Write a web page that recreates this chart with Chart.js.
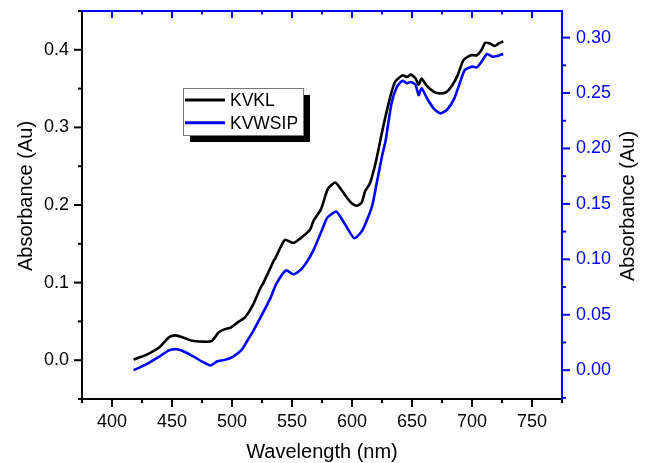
<!DOCTYPE html>
<html>
<head>
<meta charset="utf-8">
<script src="https://cdn.jsdelivr.net/npm/chart.js@4/dist/chart.umd.min.js"></script>
<style>
  html, body { margin: 0; padding: 0; background: #fff; }
  #wrap { width: 646px; height: 463px; }
</style>
</head>
<body>
<div id="wrap"><canvas id="chart" width="646" height="463"></canvas></div>
<script>
// KVKL (left axis)
const nmKVKL = [418, 428, 439, 447, 449, 453, 458, 467, 475, 483, 489, 494, 499, 505, 510, 514, 518, 520,
  524, 526, 535, 536, 544, 551, 557, 565, 568, 574, 580, 586, 591, 596, 600, 604, 608, 611, 615, 619, 622,
  626, 632, 636, 642, 646, 649, 653, 655.5, 658, 662, 668, 672, 678, 683, 688, 693, 699, 704, 708, 711, 715,
  719, 722, 726]
const absKVKL = [0.001, 0.0065, 0.016, 0.029, 0.031, 0.032, 0.030, 0.025, 0.024, 0.0245, 0.036, 0.040, 0.042,
  0.049, 0.054, 0.062, 0.073, 0.080, 0.094, 0.099, 0.129, 0.131, 0.155, 0.151, 0.157, 0.168, 0.180, 0.194,
  0.221, 0.229, 0.220, 0.209, 0.202, 0.199, 0.203, 0.218, 0.228, 0.250, 0.271, 0.301, 0.340, 0.359, 0.367,
  0.365, 0.368, 0.363, 0.355, 0.363, 0.354, 0.346, 0.344, 0.345, 0.353, 0.367, 0.387, 0.393, 0.393, 0.400,
  0.409, 0.408, 0.405, 0.408, 0.411]

// KVWSIP (right axis)
const nmKVWSIP = [418, 428, 439, 447, 453, 458, 468, 475, 482, 487.5, 494, 501, 508, 513, 518, 524, 532, 537,
  545, 551, 557, 562, 568, 575, 579, 582, 587, 592, 597, 602, 608, 612.5, 617, 621, 625, 628, 633, 637.5,
  642, 646, 649, 653, 655.5, 658, 662.5, 668, 673.5, 679, 685, 690, 694, 700, 704, 708, 712.5, 717, 721, 726]
const absKVWSIP = [0.000, 0.005, 0.012, 0.0177, 0.019, 0.0177, 0.0123, 0.0078, 0.0042, 0.0078, 0.0093,
  0.0123, 0.0183, 0.027, 0.036, 0.048, 0.065, 0.078, 0.090, 0.0866, 0.0904, 0.097, 0.1085, 0.1265, 0.137,
  0.140, 0.143, 0.1355, 0.1265, 0.119, 0.125, 0.1355, 0.149, 0.171, 0.193, 0.207, 0.241, 0.2557, 0.261,
  0.2588, 0.260, 0.2573, 0.2482, 0.2543, 0.2453, 0.2362, 0.2317, 0.2347, 0.2445, 0.2595, 0.2708, 0.2738,
  0.2732, 0.2783, 0.2852, 0.2828, 0.2834, 0.2852]

const xTicks = [400, 450, 500, 550, 600, 650, 700, 750]
const leftTicks = [0.0, 0.1, 0.2, 0.3, 0.4]
const rightTicks = [0.00, 0.05, 0.10, 0.15, 0.20, 0.25, 0.30]

const BLUE = '#0000ff'
const FONT = "'Liberation Sans', Arial, sans-serif"

const toPoints = (xs, ys) => xs.map((x, i) => ({ x, y: ys[i] }))

// minor ticks halfway between majors, filling the whole axis range
const minorTicks = (majors, min, max) => {
  const step = (majors[1] - majors[0]) / 2
  const out = []
  for (let v = majors[0] - step; v >= min - 1e-9; v -= 2 * step) out.push(v)
  for (let v = majors[0] + step; v <= max + 1e-9; v += 2 * step) out.push(v)
  return out
}

const fixTicks = (list) => (scale) => {
  scale.ticks = list.map(v => ({ value: v }))
}

// fixed axis box sizes, no extra label padding
const fitBox = (size) => (s) => {
  if (s.isHorizontal()) s.height = size
  else s.width = size
  s.paddingTop = 0
  s.paddingBottom = 0
  s.paddingLeft = 0
  s.paddingRight = 0
}

const axesPlugin = {
  id: 'axesPlugin',
  afterDraw(chart) {
    const { ctx, chartArea: a, scales } = chart
    const x = scales.x, yl = scales.y, yr = scales.y1
    ctx.save()
    ctx.lineWidth = 2
    ctx.lineCap = 'butt'

    const line = (x1, y1, x2, y2, color) => {
      ctx.strokeStyle = color
      ctx.beginPath()
      ctx.moveTo(x1, y1)
      ctx.lineTo(x2, y2)
      ctx.stroke()
    }

    // bottom + top
    xTicks.forEach(v => {
      const px = x.getPixelForValue(v)
      line(px, a.bottom, px, a.bottom + 8, '#000')
      line(px, a.top, px, a.top + 7, BLUE)
    })
    minorTicks(xTicks, x.min, x.max).forEach(v => {
      const px = x.getPixelForValue(v)
      line(px, a.bottom, px, a.bottom + 4, '#000')
      line(px, a.top, px, a.top + 3.5, BLUE)
    })
    // left
    leftTicks.forEach(v => {
      const py = yl.getPixelForValue(v)
      line(a.left, py, a.left - 8, py, '#000')
    })
    minorTicks(leftTicks, yl.min, yl.max).forEach(v => {
      const py = yl.getPixelForValue(v)
      line(a.left, py, a.left - 4, py, '#000')
    })
    // right
    rightTicks.forEach(v => {
      const py = yr.getPixelForValue(v)
      line(a.right, py, a.right + 8, py, BLUE)
    })
    minorTicks(rightTicks, yr.min, yr.max).forEach(v => {
      const py = yr.getPixelForValue(v)
      line(a.right, py, a.right + 4, py, BLUE)
    })

    line(a.left, a.top - 1, a.left, a.bottom + 1, '#000')
    line(a.left - 1, a.bottom, a.right, a.bottom, '#000')
    line(a.left - 1, a.top, a.right + 1, a.top, BLUE)
    line(a.right, a.top, a.right, a.bottom + 1, BLUE)

    // titles
    ctx.fillStyle = '#000'
    ctx.font = '20px ' + FONT
    ctx.textAlign = 'center'
    ctx.textBaseline = 'middle'
    ctx.fillText('Wavelength (nm)', (a.left + a.right) / 2, 452)

    ctx.save()
    ctx.translate(26, 196)
    ctx.rotate(-Math.PI / 2)
    ctx.fillText('Absorbance (Au)', 0, 0)
    ctx.restore()

    ctx.save()
    ctx.translate(628, 206)
    ctx.rotate(-Math.PI / 2)
    ctx.fillText('Absorbance (Au)', 0, 0)
    ctx.restore()

    // legend with drop shadow
    const bx = 183, by = 88, bw = 120, bh = 47
    ctx.fillStyle = '#000'
    ctx.fillRect(bx + 7, by + 7, bw, bh)
    ctx.fillStyle = '#fff'
    ctx.fillRect(bx, by, bw, bh)
    ctx.lineWidth = 1
    ctx.strokeStyle = '#777'
    ctx.strokeRect(bx + 0.5, by + 0.5, bw, bh)

    ctx.lineWidth = 3
    ctx.font = '17.5px ' + FONT
    ctx.textAlign = 'left'
    chart.data.datasets.forEach((ds, i) => {
      const ly = 100 + i * 22.7
      line(185, ly, 225, ly, ds.borderColor)
      ctx.fillStyle = '#000'
      ctx.fillText(ds.label, 230, ly + 1)
    })
    ctx.restore()
  }
}

new Chart(document.getElementById('chart'), {
  type: 'line',
  data: {
    datasets: [{
      label: 'KVKL',
      data: toPoints(nmKVKL, absKVKL),
      borderColor: '#000',
      borderWidth: 2.6,
      pointRadius: 0,
      tension: 0.2,
      yAxisID: 'y'
    }, {
      label: 'KVWSIP',
      data: toPoints(nmKVWSIP, absKVWSIP),
      borderColor: BLUE,
      borderWidth: 2.6,
      pointRadius: 0,
      tension: 0.2,
      yAxisID: 'y1'
    }]
  },
  options: {
    responsive: false,
    animation: false,
    layout: { padding: { top: 11, left: 0, right: 0, bottom: 0 } },
    plugins: {
      legend: { display: false },
      tooltip: { enabled: false }
    },
    scales: {
      x: {
        type: 'linear',
        min: 375,
        max: 775,
        afterBuildTicks: fixTicks(xTicks),
        afterFit: fitBox(64),
        grid: { display: false, drawTicks: false },
        border: { display: false },
        ticks: {
          color: '#000',
          padding: 12,
          maxRotation: 0,
          font: { family: FONT, size: 18 },
          callback: (v) => String(v)
        }
      },
      y: {
        position: 'left',
        min: -0.05,
        max: 0.45,
        afterBuildTicks: fixTicks(leftTicks),
        afterFit: fitBox(82),
        grid: { display: false, drawTicks: false },
        border: { display: false },
        ticks: {
          color: '#000',
          padding: 13,
          font: { family: FONT, size: 18 },
          callback: (v) => Number(v).toFixed(1)
        }
      },
      y1: {
        position: 'right',
        min: -0.026,
        max: 0.324,
        afterBuildTicks: fixTicks(rightTicks),
        afterFit: fitBox(84),
        grid: { display: false, drawTicks: false },
        border: { display: false },
        ticks: {
          color: BLUE,
          padding: 14,
          font: { family: FONT, size: 18 },
          callback: (v) => Number(v).toFixed(2)
        }
      }
    }
  },
  plugins: [axesPlugin]
})
</script>
</body>
</html>
